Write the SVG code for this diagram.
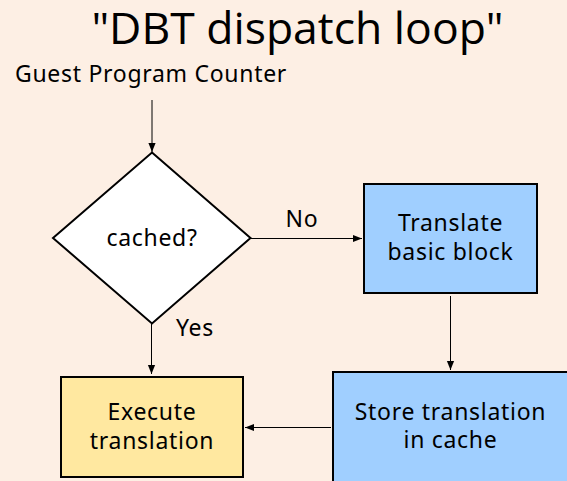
<svg xmlns="http://www.w3.org/2000/svg" width="567" height="481" viewBox="0 0 567 481">
  <defs>
    <marker id="arrow" viewBox="0 0 10 10" refX="10" refY="5" markerWidth="9" markerHeight="9" markerUnits="userSpaceOnUse" orient="auto">
      <path d="M0,1 L10,5 L0,9 z" fill="#000"/>
    </marker>
    <style>
      .bg { fill: #fdefe4; }
      .node { stroke: #000; stroke-width: 2; }
      .label { font-family: "Noto Sans", "Open Sans", sans-serif; font-size: 23px; letter-spacing: 0.7px; fill: #000; text-anchor: middle; }
      .edge { stroke: #000; stroke-width: 1; fill: none; marker-end: url(#arrow); }
      .title { font-family: "Open Sans", "Noto Sans", sans-serif; font-size: 44.5px; fill: #000; text-anchor: middle; }
    </style>
  </defs>

  <rect class="bg" x="0" y="0" width="567" height="481"/>

  <text class="title" x="297.5" y="44">"DBT dispatch loop"</text>
  <text class="label" x="15" y="81.5" style="text-anchor:start">Guest Program Counter</text>

  <g id="connectors">
    <line class="edge" x1="152" y1="100" x2="152" y2="152"/>
    <line class="edge" x1="251" y1="238.5" x2="362" y2="238.5"/>
    <line class="edge" x1="151.5" y1="324" x2="151.5" y2="374"/>
    <line class="edge" x1="450.5" y1="296" x2="450.5" y2="370"/>
    <line class="edge" x1="331" y1="427.5" x2="245" y2="427.5"/>
    <text class="label" x="302" y="227">No</text>
    <text class="label" x="195" y="336">Yes</text>
  </g>

  <g id="cached">
    <polygon class="node" points="152,152.5 250.5,238 152,323.5 53,238" fill="#ffffff"/>
    <text class="label" x="152" y="246">cached?</text>
  </g>

  <g id="translate">
    <rect class="node" x="364" y="184" width="173" height="109" fill="#a0cfff"/>
    <text class="label" x="450.5" y="231">Translate</text>
    <text class="label" x="450.5" y="260">basic block</text>
  </g>

  <g id="store">
    <rect class="node" x="333" y="372" width="236" height="112" fill="#a0cfff"/>
    <text class="label" x="450.5" y="420">Store translation</text>
    <text class="label" x="450.5" y="448">in cache</text>
  </g>

  <g id="execute">
    <rect class="node" x="61" y="377" width="182" height="100" fill="#ffe8a0"/>
    <text class="label" x="152" y="420">Execute</text>
    <text class="label" x="152" y="449">translation</text>
  </g>
</svg>
